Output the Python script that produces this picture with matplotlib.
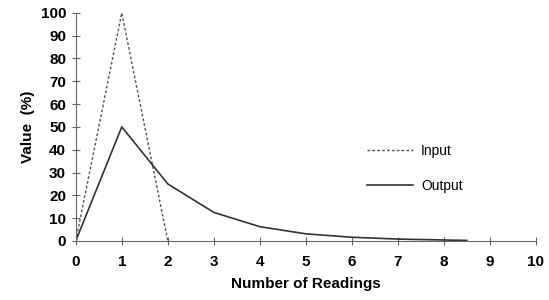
import matplotlib
matplotlib.use("Agg")
import matplotlib.pyplot as plt

plt.rcParams['font.family'] = ['Liberation Sans', 'DejaVu Sans']

readings_in = [0, 1, 2]
input_vals = [0, 100, 0]
readings_out = [0, 1, 2, 3, 4, 5, 6, 7, 8, 8.5]
output_vals = [0, 50, 25, 12.5, 6.25, 3.1, 1.6, 0.8, 0.4, 0.2]

fig = plt.figure(figsize=(5.49, 3.0), dpi=100)
ax = fig.add_axes([0.138, 0.197, 0.838, 0.76])

ax.plot(readings_in, input_vals, color='#555555', ls=(0, (2, 1.5)), lw=1.0, label='Input')
ax.plot(readings_out, output_vals, color='#333333', lw=1.2, label='Output')

ax.set_xlim(0, 10)
ax.set_ylim(0, 100)
ax.set_xticks(range(0, 11))
ax.set_yticks(range(0, 101, 10))
for s in ['top', 'right']:
    ax.spines[s].set_visible(False)
for s in ['left', 'bottom']:
    ax.spines[s].set_color('#666666')
ax.tick_params(direction='inout', length=6, color='#666666', labelsize=11, pad=4)
ax.tick_params(axis='x', pad=7)
for lab in ax.get_xticklabels() + ax.get_yticklabels():
    lab.set_fontweight('bold')

ax.set_xlabel('Number of Readings', fontsize=11, fontweight='bold', labelpad=6)
ax.set_ylabel('Value  (%)', fontsize=11, fontweight='bold', labelpad=4)

ax.legend(loc='center left', bbox_to_anchor=(0.606, 0.318), frameon=False, fontsize=10,
          handlelength=3.3, labelspacing=1.5, handletextpad=0.6)

fig.savefig('out.png', dpi=100)
